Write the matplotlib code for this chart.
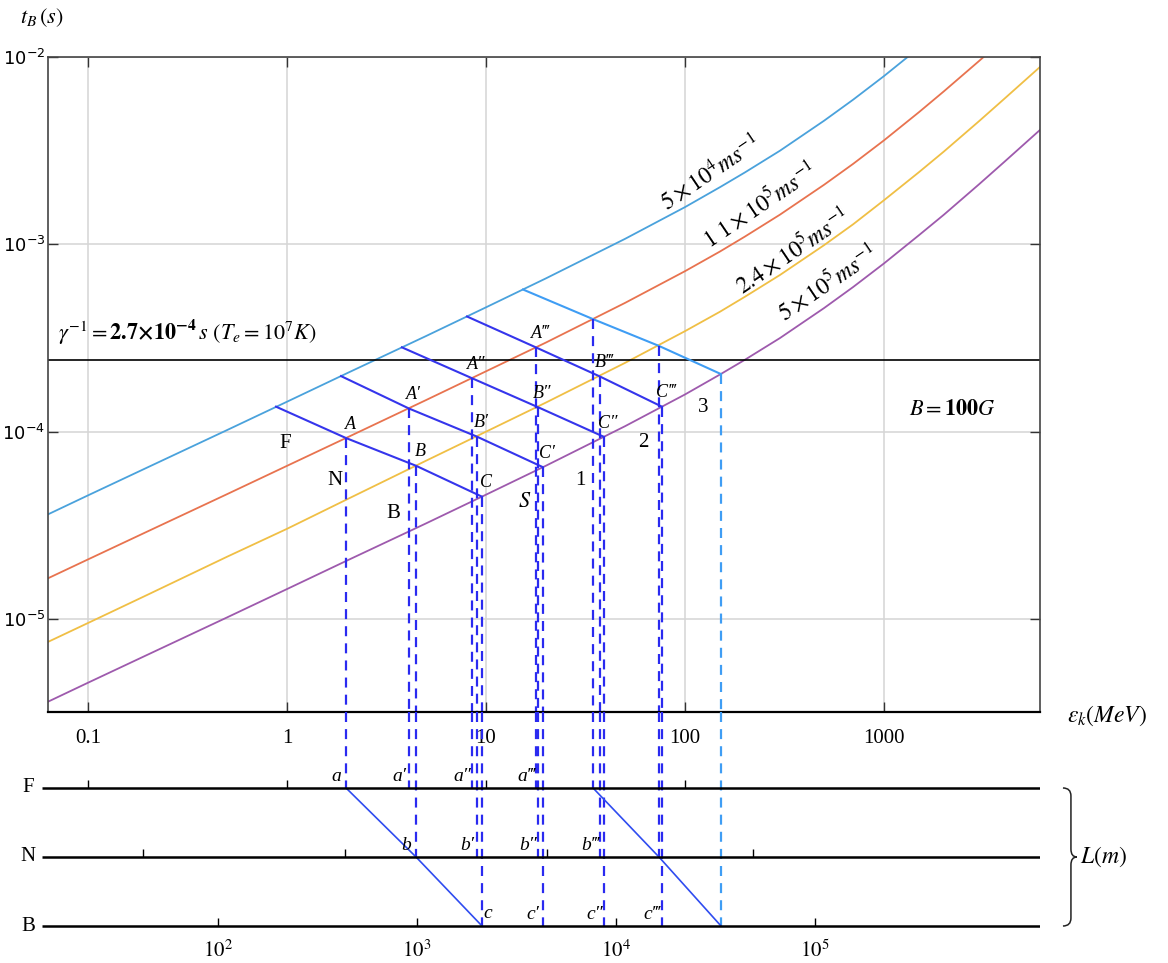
import matplotlib
matplotlib.use("Agg")
import matplotlib.pyplot as plt
from matplotlib.ticker import NullLocator
from matplotlib.path import Path
from matplotlib.patches import PathPatch

plt.rcParams['font.family'] = ['Liberation Serif', 'DejaVu Serif']
plt.rcParams['mathtext.fontset'] = 'stix'

W, H = 1168, 963

# energy grid (MeV) where the four t_B curves were read
energy = [0.063, 0.1, 0.2, 0.5, 1, 2, 5, 10, 20, 50, 100, 150, 200, 300, 500, 700,
          1000, 1500, 2000, 3000, 4000, 6080]
t_5e4 = [3.62e-5, 4.57e-5, 6.46e-5, 1.02e-4, 1.445e-4, 2.05e-4, 3.24e-4, 4.61e-4, 6.58e-4,
         1.07e-3, 1.58e-3, 2.02e-3, 2.42e-3, 3.16e-3, 4.57e-3, 5.92e-3,
         7.91e-3, 1.12e-2, 1.44e-2, 2.09e-2, 2.74e-2, 4.08e-2]
t_1p1e5 = [1.65e-5, 2.08e-5, 2.94e-5, 4.64e-5, 6.57e-5, 9.30e-5, 1.475e-4, 2.10e-4, 2.99e-4,
           4.87e-4, 7.19e-4, 9.16e-4, 1.10e-3, 1.44e-3, 2.08e-3, 2.69e-3,
           3.59e-3, 5.08e-3, 6.56e-3, 9.51e-3, 1.245e-2, 1.86e-2]
t_2p4e5 = [7.55e-6, 9.52e-6, 1.35e-5, 2.15e-5, 3.03e-5, 4.35e-5, 7.0e-5, 1.0e-4, 1.43e-4,
           2.33e-4, 3.44e-4, 4.37e-4, 5.25e-4, 6.86e-4, 9.9e-4, 1.28e-3,
           1.72e-3, 2.43e-3, 3.13e-3, 4.54e-3, 5.95e-3, 8.85e-3]
t_5e5 = [3.62e-6, 4.57e-6, 6.46e-6, 1.02e-5, 1.445e-5, 2.05e-5, 3.24e-5, 4.61e-5, 6.58e-5,
         1.07e-4, 1.58e-4, 2.02e-4, 2.42e-4, 3.16e-4, 4.57e-4, 5.92e-4,
         7.91e-4, 1.12e-3, 1.44e-3, 2.09e-3, 2.74e-3, 4.08e-3]

t_gamma = 2.4e-4   # damping time line

# nodes of the five oblique lines (on blue / orange / yellow / purple curve)
node_e_blue = [0.881, 1.87, 3.78, 8.03, 15.35]
node_t_blue = [1.36e-4, 1.98e-4, 2.82e-4, 4.12e-4, 5.74e-4]
node_e_orange = [1.98, 4.10, 8.50, 17.8, 34.5]
node_t_orange = [9.25e-5, 1.33e-4, 1.93e-4, 2.82e-4, 3.99e-4]
node_e_yellow = [4.45, 9.01, 18.3, 37.4, 74.0]
node_t_yellow = [6.58e-5, 9.41e-5, 1.35e-4, 1.97e-4, 2.87e-4]
node_e_purple = [9.55, 19.3, 39.2, 76.6, 151.7]
node_t_purple = [4.50e-5, 6.47e-5, 9.38e-5, 1.36e-4, 2.03e-4]

names_upper = ["A", "B", "C"]
names_lower = ["a", "b", "c"]
primes = ["", "\u2032", "\u2033", "\u2034"]

# lower panel: L (m) per MeV, levels and their tick marks
L_PER_MEV = 222
levels = {"F": 2, "N": 1, "B": 0}
ticks_F = [22.2, 222, 2220, 22200]
ticks_N = [42, 434, 4500, 48600]
ticks_B = [1e2, 1e3, 1e4, 1e5]
ticks_B_labels = [r"$10^2$", r"$10^3$", r"$10^4$", r"$10^5$"]

col_curves = ["#4aa2dc", "#e8734f", "#f0bf45", "#9e5aad"]
col_line = "#3535ec"
col_dash = "#2a2af0"
col_light = "#3f9df4"
ital = dict(fontstyle="italic", family=["Liberation Serif", "DejaVu Serif"])


def fx(x):
    return x / W


def fy(y):
    return 1 - y / H


fig = plt.figure(figsize=(W / 100, H / 100), dpi=100)
ax = fig.add_axes([fx(48), fy(712), (1040 - 48) / W, (712 - 57) / H])
ax2 = fig.add_axes([fx(42), 0, (1040 - 42) / W, (963 - 712) / H])

ax.set_xscale("log")
ax.set_yscale("log")
ax.set_xlim(0.063, 6080)
ax.set_ylim(3.19e-6, 1e-2)
ax.set_xticks([0.1, 1, 10, 100, 1000])
ax.set_xticklabels(["0.1", "1", "10", "100", "1000"], fontsize=15)
ax.set_yticks([1e-5, 1e-4, 1e-3, 1e-2])
ax.set_yticklabels([r"$10^{-5}$", r"$10^{-4}$", r"$10^{-3}$", r"$10^{-2}$"], fontsize=13)
for lab in ax.get_yticklabels():
    lab.set_math_fontfamily("dejavusans")
ax.xaxis.set_minor_locator(NullLocator())
ax.yaxis.set_minor_locator(NullLocator())
ax.tick_params(direction="in", length=7, top=True, right=True, width=1, colors="#333333")
ax.tick_params(axis="x", pad=12, labelcolor="black")
ax.tick_params(axis="y", pad=2, labelcolor="black")
ax.grid(True, color="#d5d5d5", lw=1.1)
ax.set_axisbelow(True)
for sp in ax.spines.values():
    sp.set_color("#444444")
    sp.set_linewidth(1.2)
ax.spines["bottom"].set_color("black")
ax.spines["bottom"].set_linewidth(1.6)

for tv, c in zip([t_5e4, t_1p1e5, t_2p4e5, t_5e5], col_curves):
    ax.plot(energy, tv, color=c, lw=1.3)

ax.axhline(t_gamma, color="black", lw=1.2)

dash = (0, (4.5, 3.2))
node_e = [node_e_blue, node_e_orange, node_e_yellow, node_e_purple]
node_t = [node_t_blue, node_t_orange, node_t_yellow, node_t_purple]
ymin = ax.get_ylim()[0]
ax2.set_xscale("log")
ax2.set_xlim(L_PER_MEV * 0.0587, L_PER_MEV * 6080)
ax2.set_ylim(-0.536, 3.101)
ax2.axis("off")
ytop2 = ax2.get_ylim()[1]
lev_list = [levels["F"], levels["N"], levels["B"]]

for k in range(5):
    es = [node_e[j][k] for j in range(4)]
    ts = [node_t[j][k] for j in range(4)]
    ax.plot(es, ts, color=col_line if k < 4 else col_light, lw=1.5)
    for j in range(1, 4):
        e, t = node_e[j][k], node_t[j][k]
        c = col_light if (k == 4 and j == 3) else col_dash
        ax.plot([e, e], [t, ymin], color=c, lw=1.6, ls=dash)
        ax2.plot([e * L_PER_MEV] * 2, [ytop2, lev_list[j - 1]], color=c, lw=1.6, ls=dash)
        if k < 4:
            ax.annotate(names_upper[j - 1] + primes[k], (e, t),
                        xytext=(3, 10), textcoords="offset points", ha="center",
                        va="center", fontsize=13, **ital)
            off = (4, 9) if (k == 0 and j == 3) else (-7, 8)
            ax2.annotate(names_lower[j - 1] + primes[k],
                         (e * L_PER_MEV, lev_list[j - 1]), xytext=off,
                         textcoords="offset points", ha="center", va="center",
                         fontsize=14, **ital)

# oblique lines in the lower panel
for k in (0, 4):
    ax2.plot([node_e[j][k] * L_PER_MEV for j in range(1, 4)], lev_list,
             color="#2f4cf0", lw=1.2)

x0, x1 = ax2.get_xlim()
for name, lev in levels.items():
    ax2.plot([x0, x1], [lev, lev], color="black", lw=1.8, solid_capstyle="butt")
    ax2.text(-0.014, lev, name, transform=ax2.get_yaxis_transform(), ha="center",
             va="center", fontsize=15)
for tk, lev in zip([ticks_F, ticks_N, ticks_B], lev_list):
    ax2.vlines(tk, lev, lev + 0.12, color="black", lw=1)
for tk, lb in zip(ticks_B, ticks_B_labels):
    ax2.text(tk, -0.36, lb, ha="center", va="center", fontsize=15,
             transform=ax2.transData)

# brace for L(m)
tr = ax2.get_yaxis_transform()
bx, hx, tx = 1.031, 1.023, 1.037
verts = [(hx, 2.0), (bx, 2.0), (bx, 1.885), (bx, 1.115), (bx, 1.0), (tx, 1.0),
         (tx, 1.0), (bx, 1.0), (bx, 0.885), (bx, 0.115), (bx, 0.0), (hx, 0.0)]
codes = [Path.MOVETO, Path.CURVE3, Path.CURVE3, Path.LINETO, Path.CURVE3, Path.CURVE3,
         Path.MOVETO, Path.CURVE3, Path.CURVE3, Path.LINETO, Path.CURVE3, Path.CURVE3]
ax2.add_patch(PathPatch(Path(verts, codes), transform=tr, fill=False, lw=1.1,
                        color="#222222", clip_on=False))
ax2.text(1.04, 1.0, r"$L(m)$", transform=tr, ha="left", va="center", fontsize=17)

# free text
fig.text(fx(42), fy(18), r"$t_B\,(s)$", ha="center", va="center", fontsize=16)
fig.text(fx(1107), fy(716), r"$\varepsilon_k(MeV)$", ha="center", va="center", fontsize=17)
fig.text(fx(58), fy(332), r"$\gamma^{-1}=\mathbf{2.7{\times}10^{-4}}\,s\ (T_e=10^7K)$",
         ha="left", va="center", fontsize=16)
fig.text(fx(952), fy(410), r"$B=\mathbf{100}G$", ha="center", va="center", fontsize=16)

for s, (x, y) in {"F": (285, 443), "N": (335, 480), "B": (393, 513),
                  "1": (580, 480), "2": (643, 442), "3": (703, 407)}.items():
    fig.text(fx(x), fy(y), s, ha="center", va="center", fontsize=15)
fig.text(fx(525), fy(502), r"$S$", ha="center", va="center", fontsize=16)

for s, (x, y) in {r"$5\times10^4 ms^{-1}$": (710, 173),
                  r"$1\ 1\times10^5 ms^{-1}$": (760, 205),
                  r"$2.4\times10^5 ms^{-1}$": (793, 251),
                  r"$5\times10^5 ms^{-1}$": (827, 283)}.items():
    fig.text(fx(x), fy(y), s, ha="center", va="center", fontsize=17, rotation=34,
             rotation_mode="anchor")

fig.savefig("out.png", dpi=100)
